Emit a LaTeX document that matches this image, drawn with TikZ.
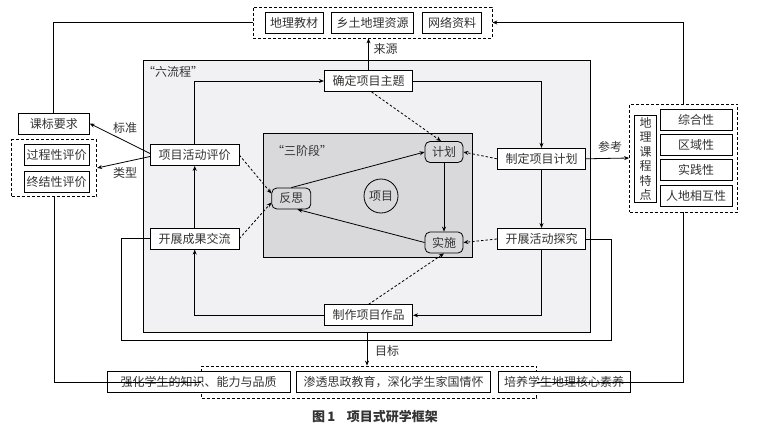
\documentclass[tikz,border=0pt]{standalone}
\usepackage{fontspec}
\setmainfont{Noto Sans CJK SC}
\usetikzlibrary{arrows.meta}
\definecolor{txt}{HTML}{333333}
\definecolor{outerbg}{HTML}{F1F1F3}
\definecolor{innerbg}{HTML}{D9D9DB}
\tikzset{
  box/.style={draw, fill=white, text=txt, inner sep=0pt, minimum height=21pt, font=\fontsize{12}{14}\selectfont},
  stagebox/.style={box, rounded corners=5pt, fill=innerbg, minimum width=38pt},
  dbox/.style={draw, dash pattern=on 3pt off 2pt, inner sep=0pt},
  lab/.style={text=txt, font=\fontsize{12}{14}\selectfont, inner sep=0pt},
  arr/.style={-{Stealth[length=5pt,width=4pt]}},
  darr/.style={arr, dash pattern=on 2.5pt off 2pt},
}
\begin{document}
\begin{tikzpicture}[x=1pt,y=-1pt,line width=0.8pt]
\useasboundingbox (0,0) rectangle (760,428);
\node[draw, fill=outerbg, inner sep=0pt, minimum width=447.4pt, minimum height=271.6pt] (six) at (367,196.5) {};
\node[draw, fill=innerbg, inner sep=0pt, minimum width=209pt, minimum height=124.4pt] (three) at (367.8,195.5) {};
\node[lab] (sixlab) at (173,72) {“六流程”};
\node[lab] (threelab) at (302,150.7) {“三阶段”};

\node[dbox, minimum width=239pt, minimum height=31pt] (src) at (372.5,22.5) {};
\node[box, minimum width=58pt] (jc) at (294,23) {地理教材};
\node[box, minimum width=82pt] (xt) at (372.5,23) {乡土地理资源};
\node[box, minimum width=59pt] (wl) at (452,23) {网络资料};

\node[box, minimum width=71pt] (kb) at (53.8,123.5) {课标要求};
\node[dbox, minimum width=85pt, minimum height=57pt] (evt) at (54.2,168) {};
\node[box, minimum width=65pt] (gc) at (56.5,154.5) {过程性评价};
\node[box, minimum width=65pt] (zj) at (56.5,181.5) {终结性评价};

\node[dbox, minimum width=108pt, minimum height=108pt] (trait) at (683.5,158) {};
\node[box, minimum width=22.4pt, minimum height=86.6pt, align=center, font=\fontsize{12}{14.4}\selectfont] (tz) at (645.5,159) {地\\理\\课\\程\\特\\点};
\node[box, minimum width=72pt] (c1) at (696.2,119.7) {综合性};
\node[box, minimum width=72pt] (c2) at (696.2,145.2) {区域性};
\node[box, minimum width=72pt] (c3) at (696.2,170.2) {实践性};
\node[box, minimum width=72pt] (c4) at (696.2,195.8) {人地相互性};

\node[dbox, minimum width=335pt, minimum height=32pt] (goal) at (369.2,382) {};
\node[box, minimum width=183pt] (g1) at (198.5,382) {强化学生的知识、能力与品质};
\node[box, minimum width=194pt] (g2) at (393.7,382) {渗透思政教育，深化学生家国情怀};
\node[box, minimum width=132pt] (g3) at (564.2,382) {培养学生地理核心素养};

\node[box, minimum width=88.4pt] (qd) at (368.5,81) {确定项目主题};
\node[box, minimum width=88.4pt] (zd) at (541.5,158.8) {制定项目计划};
\node[box, minimum width=88.4pt] (kt) at (541.5,239) {开展活动探究};
\node[box, minimum width=88.4pt] (zz) at (368.5,315.3) {制作项目作品};
\node[box, minimum width=88.4pt] (kc) at (194.7,238.7) {开展成果交流};
\node[box, minimum width=88.4pt] (pj) at (194.7,155) {项目活动评价};

\node[stagebox] (jh) at (444,152) {计划};
\node[stagebox] (ss) at (444,242.5) {实施};
\node[stagebox, minimum width=39pt] (fs) at (291.3,198.5) {反思};
\node[draw, circle, minimum size=34pt, inner sep=0pt, text=txt, font=\fontsize{12}{14}\selectfont] (xm) at (381,196) {项目};

\node[lab] (lyl) at (385.5,49) {来源};
\node[lab] (mbl) at (387,351) {目标};
\node[lab] (bzl) at (125,127.7) {标准};
\node[lab] (lxl) at (125,173.3) {类型};
\node[lab] (ckl) at (610,146.7) {参考};
\node[text=txt, font=\fontsize{13}{15}\selectfont\bfseries, inner sep=0pt] (cap) at (375,416.5) {图\,1\hspace{0.9em}项目式研学框架};

\coordinate (loopL) at (121,340);
\coordinate (loopR) at (611.7,340);

\draw[arr] (qd.north) -- (qd.north |- src.south);
\draw[arr] (qd.east) -| (zd.north);
\draw[arr] (zd.south) -- (kt.north);
\draw[arr] (kt.south) |- (zz.east);
\draw[arr] (zz.west) -| (kc.south);
\draw[arr] (kc.north) -- (pj.south);
\draw[arr] (pj.north) |- (qd.west);
\draw (kc.west) -| (loopL) -- (loopR) |- (kt.east);
\draw[arr] (six.south) -- (six.south |- goal.north);

\draw[arr] (fs.north) -- (jh.west);
\draw[arr] (jh.south) -- (ss.north);
\draw[arr] (ss.west) -- ([xshift=6pt]fs.south);
\draw[darr] ([xshift=3pt]qd.south) -- ([xshift=-3pt]jh.north);
\draw[darr] (zd.west) -- (jh.east);
\draw[darr] (kt.west) -- (ss.east);
\draw[darr] (zz.north) -- (ss.south);
\draw[darr] (pj.east) -- ([yshift=5pt]fs.west);
\draw[darr] (kc.east) -- ([yshift=-4pt]fs.west);

\draw[arr] ([yshift=1.5pt]pj.west) -- (kb.east);
\draw[arr] ([yshift=-1.5pt]pj.west) -- (evt.east);
\draw[arr] (zd.east) -- (trait.west);
\draw[arr] (trait.north) |- (src.east);
\draw (src.west) -| (kb.north);
\draw (evt.south) |- (goal.west);
\draw (trait.south) |- (goal.east);
\end{tikzpicture}
\end{document}
